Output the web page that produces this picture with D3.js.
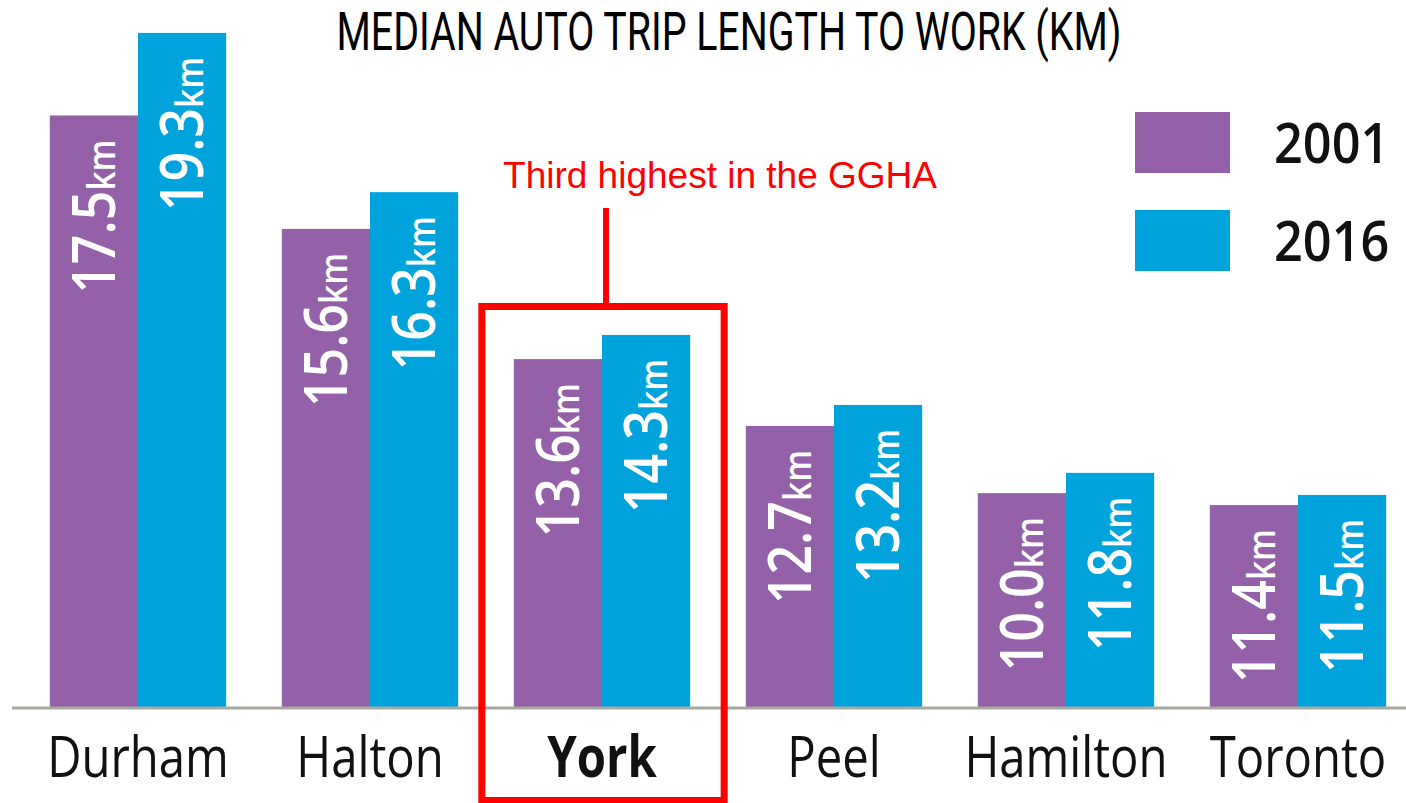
<!DOCTYPE html>
<html>
<head>
<meta charset="utf-8">
<script src="https://cdn.jsdelivr.net/npm/d3@7"></script>
<style>
  body { margin: 0; background: #fff; }
</style>
</head>
<body>
<div id="canvas"></div>
<script>
"use strict"

let svgWidth = 1406
let svgHeight = 803

// regions along the bottom
let regions = ["Durham", "Halton", "York", "Peel", "Hamilton", "Toronto"]
let years = ["2001", "2016"]

// printed values (km)
let label2001 = [17.5, 15.6, 13.6, 12.7, 10.0, 11.4]
let label2016 = [19.3, 16.3, 14.3, 13.2, 11.8, 11.5]

// bar lengths as drawn in the graphic (not proportional to the printed values)
let drawn2001 = [16.9, 13.66, 9.94, 8.03, 6.11, 5.77]
let drawn2016 = [19.26, 14.71, 10.63, 8.63, 6.69, 6.06]

let highlight = "York"
let note = "Third highest in the GGHA"
let title = "MEDIAN AUTO TRIP LENGTH TO WORK (KM)"

let colors = { "2001": "#9461a8", "2016": "#00a3dc" }

let baseY = 707

let svg = d3.select("#canvas")
    .append("svg")
    .attr("width", svgWidth)
    .attr("height", svgHeight)
    .style("font-family", "'Open Sans', sans-serif")

let rows = regions.map(function (r, i) {
    return {
        region: r,
        bars: [
            { year: "2001", value: label2001[i], drawn: drawn2001[i] },
            { year: "2016", value: label2016[i], drawn: drawn2016[i] }
        ]
    }
})

let x0 = d3.scaleBand()
    .domain(regions)
    .range([22, 1414])
    .paddingInner(0.24)
    .paddingOuter(0.12)

let x1 = d3.scaleBand()
    .domain(years)
    .range([0, x0.bandwidth()])

let yScale = d3.scaleLinear()
    .domain([0, 20])
    .range([baseY, baseY - 700])

/* title */
svg.append("text")
    .attr("x", 729)
    .attr("y", 50)
    .attr("text-anchor", "middle")
    .attr("font-family", "Roboto, sans-serif")
    .attr("font-size", 53)
    .attr("textLength", 785)
    .attr("lengthAdjust", "spacingAndGlyphs")
    .attr("fill", "#000")
    .text(title)

/* bars */
let groups = svg.selectAll("g.region")
    .data(rows)
    .enter()
    .append("g")
    .attr("class", "region")
    .attr("transform", d => `translate(${x0(d.region)},0)`)

groups.selectAll("rect")
    .data(d => d.bars)
    .enter()
    .append("rect")
    .attr("x", d => x1(d.year))
    .attr("y", d => yScale(d.drawn))
    .attr("width", x1.bandwidth())
    .attr("height", d => baseY - yScale(d.drawn))
    .attr("fill", d => colors[d.year])

/* rotated value labels */
let labels = groups.selectAll("text.val")
    .data(d => d.bars)
    .enter()
    .append("text")
    .attr("class", "val")
    .attr("transform", function (d) {
        let cx = x1(d.year) + x1.bandwidth() / 2
        return `translate(${cx},${yScale(d.drawn) + 24}) rotate(-90) scale(0.88,1)`
    })
    .attr("text-anchor", "end")
    .attr("dy", "0.36em")
    .attr("fill", "#fff")
    .attr("font-weight", 600)
    .attr("font-size", 59)

labels.append("tspan").text(d => d.value.toFixed(1))
labels.append("tspan").attr("font-size", 38).text("km")

/* baseline */
svg.append("line")
    .attr("x1", 12)
    .attr("x2", svgWidth)
    .attr("y1", baseY + 1)
    .attr("y2", baseY + 1)
    .attr("stroke", "#a9a8a0")
    .attr("stroke-width", 3)

/* region names */
svg.selectAll("text.cat")
    .data(regions)
    .enter()
    .append("text")
    .attr("class", "cat")
    .attr("transform", d => `translate(${x0(d) + x0.bandwidth() / 2},777) scale(0.83,1)`)
    .attr("text-anchor", "middle")
    .attr("font-size", 57)
    .attr("font-weight", d => d === highlight ? 700 : 400)
    .attr("fill", "#111")
    .text(d => d)

/* legend */
let legend = svg.append("g")
    .attr("transform", "translate(1135,112)")

years.forEach(function (yr, i) {
    legend.append("rect")
        .attr("x", 0)
        .attr("y", i * 98)
        .attr("width", 95)
        .attr("height", 61)
        .attr("fill", colors[yr])
    legend.append("text")
        .attr("transform", `translate(139,${i * 98 + 51}) scale(0.9,1)`)
        .attr("font-size", 56)
        .attr("font-weight", 600)
        .attr("fill", "#111")
        .text(yr)
})

/* annotation around York */
let hx = x0(highlight)
svg.append("rect")
    .attr("x", hx - 32)
    .attr("y", 306.5)
    .attr("width", x0.bandwidth() + 66)
    .attr("height", 494)
    .attr("fill", "none")
    .attr("stroke", "#ff0000")
    .attr("stroke-width", 7)

svg.append("line")
    .attr("x1", hx + x0.bandwidth() / 2 + 4)
    .attr("x2", hx + x0.bandwidth() / 2 + 4)
    .attr("y1", 208)
    .attr("y2", 306)
    .attr("stroke", "#ff0000")
    .attr("stroke-width", 6)

svg.append("text")
    .attr("x", 720)
    .attr("y", 188)
    .attr("text-anchor", "middle")
    .attr("font-family", "'Liberation Sans', Arial, sans-serif")
    .attr("font-size", 37)
    .attr("fill", "#ff0000")
    .text(note)
</script>
</body>
</html>
